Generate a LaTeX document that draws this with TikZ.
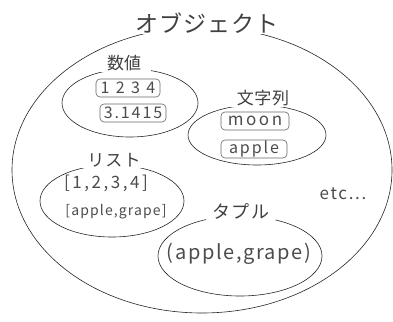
\documentclass[tikz,border=0pt]{standalone}
\usepackage{fontspec}
\setmainfont{Noto Sans CJK JP}
\begin{document}
\begin{tikzpicture}[x=1pt,y=-1pt,line width=0.6pt,
  ring/.style={draw=black!85},
  lbl/.style={fill=white,inner xsep=7pt,inner ysep=1pt,text=black!75},
  val/.style={draw=black!60,rounded corners=4pt,inner xsep=2pt,inner ysep=0pt,text=black!70,
    font=\fontsize{16}{17}\selectfont\addfontfeature{LetterSpace=12},minimum height=18pt},
  plain/.style={text=black!70,inner sep=1pt}]
\useasboundingbox (0,0) rectangle (393,321);
\fill[white] (0,0) rectangle (393,321);
% outer ellipse
\draw[ring] (202,170) ellipse [x radius=190pt,y radius=143pt];
\node[lbl,inner xsep=12pt,font=\fontsize{23}{25}\selectfont\addfontfeature{LetterSpace=4}] (obj) at (207,23) {オブジェクト};
% numbers
\draw[ring] (130,103) ellipse [x radius=68pt,y radius=34pt];
\node[lbl,inner xsep=10pt,font=\fontsize{17}{18}\selectfont] (num) at (124,63) {数値};
\node[val,minimum width=64pt,font=\fontsize{16}{17}\selectfont\addfontfeature{LetterSpace=40}] (n1) at (128,88) {1234};
\node[val,minimum width=66pt] (n2) at (133,113) {3.1415};
% strings
\draw[ring] (257,135) ellipse [x radius=69pt,y radius=30pt];
\node[lbl,font=\fontsize{17}{18}\selectfont\addfontfeature{LetterSpace=4}] (str) at (263,98) {文字列};
\node[val,minimum width=68pt,font=\fontsize{17}{18}\selectfont\addfontfeature{LetterSpace=15}] (s1) at (255,121) {moon};
\node[val,minimum width=66pt] (s2) at (254,149) {apple};
% list
\draw[ring] (112,201) ellipse [x radius=72pt,y radius=36pt];
\node[lbl,font=\fontsize{17}{18}\selectfont\addfontfeature{LetterSpace=6}] (lst) at (114,160) {リスト};
\node[plain,font=\fontsize{17}{18}\selectfont\addfontfeature{LetterSpace=15}] (l1) at (106,183) {[1,2,3,4]};
\node[plain,font=\fontsize{14}{15}\selectfont\addfontfeature{LetterSpace=8}] (l2) at (116,212) {[apple,grape]};
% tuple
\draw[ring] (240,256) ellipse [x radius=82pt,y radius=40pt];
\node[lbl,font=\fontsize{18}{19}\selectfont\addfontfeature{LetterSpace=8}] (tup) at (241,211) {タプル};
\node[plain,font=\fontsize{20}{22}\selectfont\addfontfeature{LetterSpace=8}] (t1) at (239,254) {(apple,grape)};
% etc
\node[plain,font=\fontsize{17}{18}\selectfont\addfontfeature{LetterSpace=10}] (etc) at (343,194) {etc...};
\end{tikzpicture}
\end{document}
